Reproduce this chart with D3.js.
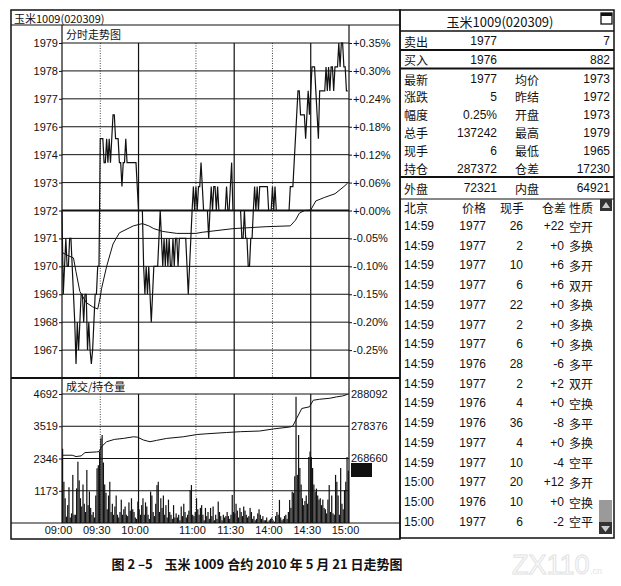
<!DOCTYPE html>
<html lang="zh">
<head>
<meta charset="utf-8">
<title>玉米1009 分时走势图</title>
<script src="https://cdn.jsdelivr.net/npm/d3@7/dist/d3.min.js"></script>
<style>
  body { margin: 0; background: #fff; }
  svg text { fill: #111; }
  .num { font-family: "Liberation Sans", Arial, sans-serif; }
  .cjk { font-family: "Noto Sans CJK SC", sans-serif; }
  .axis path.domain { display: none; }
  .axis line { stroke: #111; }
</style>
</head>
<body>
<script>
// ---- data ----
var prevSettle = 1972, dayHigh = 1979, priceFloor = 1966;

var timeTicks = [0, 30, 60, 105, 135, 165, 195, 225];           // trading minutes from 09:00
var timeLabels = ['09:00', '09:30', '10:00', '11:00', '11:30', '14:00', '14:30', '15:00'];

var priceLabels = ['1979', '1978', '1977', '1976', '1974', '1973', '1972', '1971', '1970', '1969', '1968', '1967'];
var pctLabels = ['+0.35%', '+0.30%', '+0.24%', '+0.18%', '+0.12%', '+0.06%', '+0.00%',
                 '-0.05%', '-0.10%', '-0.15%', '-0.20%', '-0.25%'];

// minute prices, 09:00-10:15
var priceAM1 = [1972, 1969, 1970, 1971, 1970, 1970, 1971, 1971, 1970, 1969,
                1968, 1966.5, 1968, 1967, 1968, 1969, 1969, 1968, 1969, 1969,
                1967, 1968, 1967, 1966.5, 1967, 1968, 1969, 1969, 1970, 1970,
                1975, 1975, 1975, 1974, 1974, 1975, 1974, 1975, 1974, 1975,
                1976, 1976, 1975, 1975, 1975, 1974, 1974, 1973, 1974, 1974,
                1975, 1974, 1974, 1974, 1974, 1974, 1974, 1974, 1974, 1973,
                1972, 1972, 1972, 1972, 1970, 1969, 1970, 1969, 1970, 1969,
                1968, 1969, 1970, 1970, 1970];
// 10:30-11:30
var priceAM2 = [1970, 1971, 1972, 1971, 1970, 1971, 1970, 1971, 1970, 1971,
                1970, 1970, 1971, 1970, 1971, 1971, 1970, 1971, 1971, 1971,
                1971, 1971, 1971, 1970, 1969, 1970, 1971, 1972, 1973, 1972,
                1973, 1972, 1973, 1973, 1974, 1973, 1972, 1972, 1972, 1972,
                1971, 1972, 1973, 1972, 1973, 1973, 1972, 1973, 1972, 1972,
                1972, 1972, 1972, 1972, 1973, 1972, 1972, 1973, 1974, 1972];
// 13:30-15:00
var pricePM = [1972, 1972, 1972, 1972, 1972, 1972, 1971, 1971, 1972, 1971,
               1971, 1970, 1970, 1971, 1971, 1972, 1973, 1972, 1973, 1972,
               1973, 1973, 1973, 1973, 1973, 1973, 1973, 1972, 1972, 1972,
               1973, 1972, 1973, 1972, 1972, 1972, 1972, 1972, 1972, 1972,
               1972, 1972, 1972, 1972, 1973, 1973, 1973, 1974, 1975, 1976,
               1977, 1977, 1976, 1976, 1976, 1976, 1975, 1976, 1977, 1976,
               1977, 1978, 1978, 1978, 1977, 1976, 1975, 1977, 1977, 1977,
               1977, 1977, 1978, 1977, 1978, 1977, 1978, 1978, 1977, 1978,
               1978, 1978, 1979, 1978, 1979, 1979, 1978, 1978, 1977, 1977];

var volAM1 = [2700, 1500, 900, 230, 650, 1300, 200, 350, 1750, 300,
              300, 1260, 2230, 1550, 900, 600, 1400, 700, 400, 1930,
              650, 1150, 550, 300, 400, 200, 1000, 1990, 2100, 2600,
              3080, 3200, 2200, 1400, 1100, 500, 1000, 1500, 400, 700,
              300, 600, 1000, 300, 200, 400, 850, 300, 500, 600,
              300, 250, 750, 450, 900, 500, 400, 200, 150, 780,
              500, 300, 650, 900, 300, 750, 600, 300, 150, 1140,
              1000, 400, 250, 700, 1380];
var volAM2 = [1500, 400, 900, 550, 1000, 300, 650, 200, 850, 400,
              300, 150, 650, 200, 350, 200, 300, 100, 600, 250,
              700, 400, 200, 300, 450, 1200, 1380, 300, 250, 400,
              900, 500, 300, 550, 650, 300, 100, 550, 250, 400,
              150, 550, 250, 600, 100, 300, 150, 780, 400, 250,
              100, 300, 200, 250, 400, 250, 150, 300, 1020, 400];
var volPM = [350, 700, 450, 200, 550, 400, 250, 600, 450, 300,
             200, 250, 550, 400, 150, 250, 100, 150, 350, 500,
             300, 150, 250, 100, 100, 200, 50, 100, 150, 200,
             100, 50, 250, 400, 300, 840, 200, 100, 150, 250,
             300, 150, 400, 840, 550, 1140, 1100, 1700, 4590, 1750,
             3200, 2000, 1400, 900, 650, 800, 1000, 700, 2400, 2600,
             2400, 2000, 1400, 1140, 1250, 1000, 850, 900, 650, 850,
             550, 500, 350, 850, 1380, 400, 1000, 350, 300, 1750,
             1500, 1000, 300, 2000, 700, 500, 1200, 1500, 2400, 1900];

// average price line, [minute, price]
var avgPrice = [[0, 1970.5], [4, 1970.4], [9, 1970.3], [11, 1969.8], [14, 1969.1], [19, 1968.7],
                [24, 1968.55], [28, 1968.47], [30, 1968.9], [31, 1969.2], [35, 1970.0], [40, 1970.8],
                [45, 1971.2], [56, 1971.45], [63, 1971.53], [68, 1971.45], [72, 1971.35], [79, 1971.25],
                [90, 1971.18], [105, 1971.18], [110, 1971.22], [134, 1971.35], [160, 1971.42],
                [179, 1971.45], [183, 1971.65], [186, 1971.9], [190, 1972.0], [195, 1972.02],
                [199, 1972.4], [206, 1972.55], [214, 1972.7], [221, 1973.0], [224, 1973.15]];

// open interest line, [minute, lots]
var openInterest = [[0, 269500], [8, 269500], [11, 269100], [15, 269300], [18, 270300], [27, 270500],
                    [29, 270600], [31, 272100], [35, 273600], [41, 274300], [48, 274600], [56, 275100],
                    [59, 275000], [64, 274100], [69, 273600], [74, 274000], [82, 274600], [95, 275100],
                    [106, 275800], [113, 276000], [129, 276400], [140, 276650], [155, 276850],
                    [166, 277500], [179, 278100], [181, 278400], [184, 280700], [188, 283700],
                    [194, 284200], [197, 286200], [202, 286500], [210, 286800], [215, 287200],
                    [220, 287500], [224, 288000]];

var volTicks = [1173, 2346, 3519, 4692];
var oiTicks = [268660, 278376, 288092];

// quote panel
var quoteTitle = '玉米1009(020309)';
var askBid = [['卖出', '1977', '7'], ['买入', '1976', '882']];
var quoteRows = [['最新', '1977', '均价', '1973'],
                 ['涨跌', '5', '昨结', '1972'],
                 ['幅度', '0.25%', '开盘', '1973'],
                 ['总手', '137242', '最高', '1979'],
                 ['现手', '6', '最低', '1965'],
                 ['持仓', '287372', '仓差', '17230']];
var outerInner = ['外盘', '72321', '内盘', '64921'];

var tradeHead = ['北京', '价格', '现手', '仓差', '性质'];
var tradeTime = ['14:59', '14:59', '14:59', '14:59', '14:59', '14:59', '14:59', '14:59',
                 '14:59', '14:59', '14:59', '14:59', '14:59', '15:00', '15:00', '15:00'];
var tradePrice = [1977, 1977, 1977, 1977, 1977, 1977, 1977, 1976, 1977, 1976, 1976, 1977, 1977, 1977, 1976, 1977];
var tradeLots = [26, 2, 10, 6, 22, 2, 6, 28, 2, 4, 36, 4, 10, 20, 10, 6];
var tradeOI = ['+22', '+0', '+6', '+6', '+0', '+0', '+0', '-6', '+2', '+0', '-8', '+0', '-4', '+12', '+0', '-2'];
var tradeKind = ['空开', '多换', '多开', '双开', '多换', '多换', '多换', '多平', '双开', '空换', '多平', '多换', '空平', '多开', '空换', '空平'];

var caption = '图 2 –5    玉米 1009 合约 2010 年 5 月 21 日走势图';

// ---- drawing ----
var price = priceAM1.concat(priceAM2, pricePM);
var volume = volAM1.concat(volAM2, volPM);

var svg = d3.select('body').append('svg')
  .attr('width', 621).attr('height', 586)
  .style('display', 'block');

var ink = '#111';

var x = d3.scaleLinear().domain([0, 225]).range([62, 349]);
var y = d3.scaleLinear().domain([priceFloor, prevSettle, dayHigh]).range([378, 210.5, 43]);
var yVol = d3.scaleLinear().domain([0, volTicks[3]]).range([523, 394]);
var yOI = d3.scaleLinear().domain([oiTicks[0], oiTicks[2]]).range([458, 394]);

function hline(g, x1, x2, yy, w) {
  g.append('line').attr('x1', x1).attr('x2', x2).attr('y1', yy).attr('y2', yy)
    .attr('stroke', ink).attr('stroke-width', w || 1);
}
function vline(g, xx, y1, y2, w, dash) {
  g.append('line').attr('x1', xx).attr('x2', xx).attr('y1', y1).attr('y2', y2)
    .attr('stroke', ink).attr('stroke-width', w || 1).attr('stroke-dasharray', dash || null);
}
function txt(g, s, xx, yy, cls, size, anchor, weight) {
  return g.append('text').attr('class', cls).attr('x', xx).attr('y', yy)
    .attr('font-size', size).attr('text-anchor', anchor || 'start')
    .attr('dominant-baseline', 'central').attr('font-weight', weight || null).text(s);
}

// left panel frame
var left = svg.append('g');
left.append('rect').attr('x', 11).attr('y', 10).attr('width', 389).attr('height', 529)
  .attr('fill', 'none').attr('stroke', ink).attr('stroke-width', 1.5);
hline(left, 11, 400, 25, 1.2);
vline(left, 62, 25, 523, 1.2);
vline(left, 349, 25, 523, 1.2);
hline(left, 11, 400, 378, 2);
hline(left, 11, 400, 523, 1.2);
txt(left, quoteTitle, 14, 17.5, 'cjk', 11);
txt(left, '分时走势图', 66, 34, 'cjk', 11);
txt(left, '成交/持仓量', 66, 386, 'cjk', 11);

// price grid
var upper = d3.range(6, 0, -1).map(function(k) { return prevSettle + k * (dayHigh - prevSettle) / 6; });
var lower = d3.range(0, 7).map(function(k) { return prevSettle - k * (prevSettle - priceFloor) / 6; });
var levels = upper.concat(lower);
var grid = svg.append('g');
levels.forEach(function(p) {
  hline(grid, 62, 349, y(p), p === prevSettle ? 2 : 1);
});
volTicks.forEach(function(v) {
  hline(grid, 62, 349, yVol(v), 1);
});
var dotted = ['09:30', '11:00', '14:00'];
timeTicks.forEach(function(t, i) {
  if (i === 0 || i === timeTicks.length - 1) return;
  var dash = dotted.indexOf(timeLabels[i]) >= 0 ? '1,1.5' : null;
  vline(grid, x(t), 43, 378, dash ? 0.8 : 1.2, dash);
  vline(grid, x(t), 394, 523, dash ? 0.8 : 1.2, dash);
});

// axes
function styleAxis(g, size) {
  g.attr('class', 'axis');
  g.selectAll('text').attr('class', 'num').attr('font-size', size).style('fill', ink);
}
var priceLevels = levels.slice(0, 12);
svg.append('g').attr('transform', 'translate(62,0)')
  .call(d3.axisLeft(y).tickValues(priceLevels).tickSize(3).tickPadding(1)
        .tickFormat(function(d, i) { return priceLabels[i]; }))
  .call(styleAxis, 11);
svg.append('g').attr('transform', 'translate(349,0)')
  .call(d3.axisRight(y).tickValues(priceLevels).tickSize(3).tickPadding(1)
        .tickFormat(function(d, i) { return pctLabels[i]; }))
  .call(styleAxis, 11);
svg.append('g').attr('transform', 'translate(62,0)')
  .call(d3.axisLeft(yVol).tickValues(volTicks).tickSize(3).tickPadding(1).tickFormat(d3.format('d')))
  .call(styleAxis, 11);
svg.append('g').attr('transform', 'translate(349,0)')
  .call(d3.axisRight(yOI).tickValues(oiTicks).tickSize(0).tickPadding(2).tickFormat(d3.format('d')))
  .call(styleAxis, 11);
svg.append('g').attr('transform', 'translate(-4,523)')
  .call(d3.axisBottom(x).tickValues(timeTicks).tickSize(0).tickPadding(3)
        .tickFormat(function(d, i) { return timeLabels[i]; }))
  .call(styleAxis, 11);

// black marker box under the open interest label
svg.append('rect').attr('x', 351).attr('y', yOI(oiTicks[0]) + 5).attr('width', 21).attr('height', 14).attr('fill', ink);

// volume bars
svg.append('g').selectAll('rect').data(volume).join('rect')
  .attr('x', function(d, i) { return x(i); })
  .attr('y', function(d) { return yVol(d); })
  .attr('width', 1.2)
  .attr('height', function(d) { return yVol(0) - yVol(d); })
  .attr('fill', ink);

// lines
svg.append('path').datum(openInterest)
  .attr('d', d3.line().x(function(d) { return x(d[0]); }).y(function(d) { return yOI(d[1]); }))
  .attr('fill', 'none').attr('stroke', ink).attr('stroke-width', 1);
svg.append('path').datum(avgPrice)
  .attr('d', d3.line().x(function(d) { return x(d[0]); }).y(function(d) { return y(d[1]); }))
  .attr('fill', 'none').attr('stroke', ink).attr('stroke-width', 1);
svg.append('path').datum(price)
  .attr('d', d3.line().x(function(d, i) { return x(i); }).y(function(d) { return y(d); }))
  .attr('fill', 'none').attr('stroke', ink).attr('stroke-width', 1.2);

// right quote panel
var rp = svg.append('g');
rp.append('rect').attr('x', 400).attr('y', 10).attr('width', 214).attr('height', 528)
  .attr('fill', 'none').attr('stroke', ink).attr('stroke-width', 1.5);
txt(rp, quoteTitle, 500, 21, 'cjk', 13, 'middle');
rp.append('rect').attr('x', 601).attr('y', 13).attr('width', 11).attr('height', 11)
  .attr('fill', 'none').attr('stroke', ink).attr('stroke-width', 1.3);
rp.append('rect').attr('x', 601).attr('y', 13).attr('width', 11).attr('height', 3).attr('fill', ink);
hline(rp, 400, 614, 31, 1.5);
hline(rp, 400, 614, 50, 2);
hline(rp, 400, 614, 68.5, 2);
hline(rp, 400, 614, 177, 2);
hline(rp, 400, 614, 199, 1.2);

askBid.forEach(function(r, i) {
  var yy = 41 + i * 18.5;
  txt(rp, r[0], 404, yy, 'cjk', 12);
  txt(rp, r[1], 497, yy, 'num', 12, 'end');
  txt(rp, r[2], 610, yy, 'num', 12, 'end');
});
quoteRows.forEach(function(r, i) {
  var yy = 79 + i * 17.9;
  txt(rp, r[0], 404, yy, 'cjk', 12);
  txt(rp, r[1], 497, yy, 'num', 12, 'end');
  txt(rp, r[2], 515, yy, 'cjk', 12);
  txt(rp, r[3], 610, yy, 'num', 12, 'end');
});
txt(rp, outerInner[0], 404, 188, 'cjk', 12);
txt(rp, outerInner[1], 497, 188, 'num', 12, 'end');
txt(rp, outerInner[2], 515, 188, 'cjk', 12);
txt(rp, outerInner[3], 610, 188, 'num', 12, 'end');

// trade list
txt(rp, tradeHead[0], 404, 207, 'cjk', 12);
txt(rp, tradeHead[1], 486, 207, 'cjk', 12, 'end');
txt(rp, tradeHead[2], 524, 207, 'cjk', 12, 'end');
txt(rp, tradeHead[3], 566, 207, 'cjk', 12, 'end');
txt(rp, tradeHead[4], 569, 207, 'cjk', 12);
tradeTime.forEach(function(t, i) {
  var yy = 226 + i * 19.72;
  txt(rp, t, 404, yy, 'num', 12);
  txt(rp, tradePrice[i], 486, yy, 'num', 12, 'end');
  txt(rp, tradeLots[i], 523, yy, 'num', 12, 'end');
  txt(rp, tradeOI[i], 564, yy, 'num', 12, 'end');
  txt(rp, tradeKind[i], 569, yy, 'cjk', 12);
});
// scroll buttons
rp.append('rect').attr('x', 600).attr('y', 199).attr('width', 12).attr('height', 12).attr('fill', '#333');
rp.append('path').attr('d', 'M602,208 L606,202 L610,208 Z').attr('fill', '#ccc');
rp.append('rect').attr('x', 599).attr('y', 500).attr('width', 13).attr('height', 22).attr('fill', '#9a9a9a');
rp.append('rect').attr('x', 599).attr('y', 522).attr('width', 13).attr('height', 12).attr('fill', '#333');
rp.append('path').attr('d', 'M601,526 L605.5,532 L610,526 Z').attr('fill', '#ccc');

// caption and faint watermark
txt(svg, caption, 257, 563, 'cjk', 13, 'middle', 700).style('white-space', 'pre');
svg.append('text').attr('x', 512).attr('y', 574).attr('class', 'num')
  .attr('font-size', 27).attr('stroke', '#e2e2e2').attr('stroke-width', 1)
  .style('fill', 'none').text('ZX110');
svg.append('text').attr('x', 590).attr('y', 574).attr('class', 'num')
  .attr('font-size', 9).style('fill', '#e2e2e2').text('.cn');
</script>
</body>
</html>
